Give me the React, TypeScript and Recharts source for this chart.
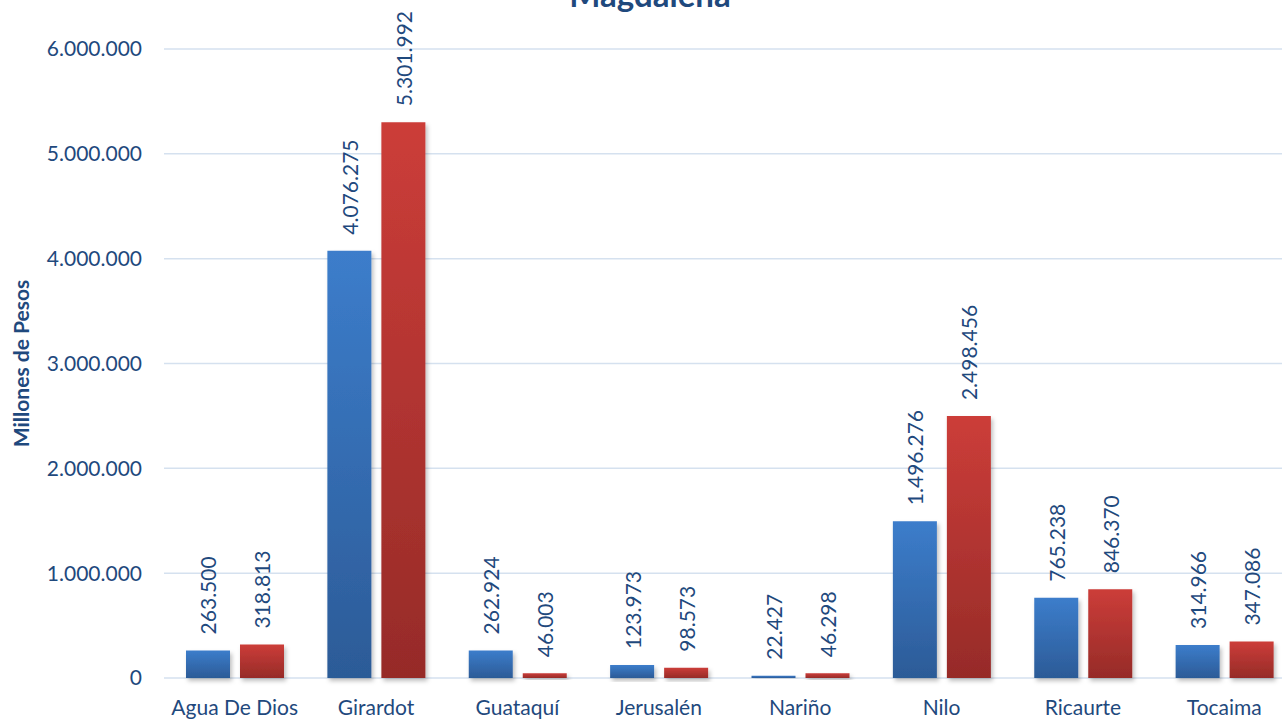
import { BarChart, Bar, XAxis, YAxis, CartesianGrid, Label, LabelList } from 'recharts';

const municipios = ['Agua De Dios', 'Girardot', 'Guataquí', 'Jerusalén', 'Nariño', 'Nilo', 'Ricaurte', 'Tocaima'];
const serieAzul = [263500, 4076275, 262924, 123973, 22427, 1496276, 765238, 314966];
const serieRoja = [318813, 5301992, 46003, 98573, 46298, 2498456, 846370, 347086];
const yTicks = [0, 1000000, 2000000, 3000000, 4000000, 5000000, 6000000];

const data = municipios.map((m, i) => ({ name: m, azul: serieAzul[i], roja: serieRoja[i] }));

const TEXT = '#1F497D';
const FONT = 'Lato, "Open Sans", sans-serif';

function fmt(v: number) {
  return v.toString().replace(/\B(?=(\d{3})+(?!\d))/g, '.');
}

function RotLabel(props: any) {
  const { x, y, width, value } = props;
  const cx = Number(x) + Number(width) / 2;
  const ty = Number(y) - 16;
  return (
    <text
      x={cx}
      y={ty}
      transform={`rotate(-90 ${cx} ${ty})`}
      textAnchor="start"
      dominantBaseline="central"
      fill={TEXT}
      fontSize={21}
      fontFamily={FONT}
    >
      {fmt(value)}
    </text>
  );
}

export default function App() {
  return (
    <div style={{ position: 'fixed', left: 0, top: 0, width: 1282, height: 719, overflow: 'hidden', background: '#fff', fontFamily: FONT }}>
      <BarChart
        width={1300}
        height={719}
        data={data}
        margin={{ top: 49, right: 5, left: 0, bottom: 0 }}
        barSize={44}
        barGap={10}
        style={{ position: 'absolute', left: 0, top: 0 }}
      >
        <defs>
          <linearGradient id="gAzul" x1="0" y1="0" x2="0" y2="1">
            <stop offset="0%" stopColor="#3C7DCB" />
            <stop offset="100%" stopColor="#2C5B97" />
          </linearGradient>
          <linearGradient id="gRoja" x1="0" y1="0" x2="0" y2="1">
            <stop offset="0%" stopColor="#CC3D39" />
            <stop offset="100%" stopColor="#962B28" />
          </linearGradient>
          <filter id="sombra" x="-20%" y="-20%" width="150%" height="150%">
            <feDropShadow dx="2" dy="3" stdDeviation="2" floodColor="#000" floodOpacity="0.25" />
          </filter>
        </defs>
        <CartesianGrid vertical={false} stroke="#D5E1EF" strokeWidth={1.5} />
        <XAxis
          dataKey="name"
          height={41}
          axisLine={false}
          tickLine={false}
          tickMargin={16}
          interval={0}
          tick={{ fill: TEXT, fontSize: 21, fontFamily: FONT }}
        />
        <YAxis
          width={164}
          domain={[0, 6000000]}
          ticks={yTicks}
          axisLine={false}
          tickLine={false}
          tickMargin={16}
          tickFormatter={(v: number) => fmt(v)}
          tick={{ fill: TEXT, fontSize: 21, fontFamily: FONT }}
        >
          <Label
            value="Millones de Pesos"
            angle={-90}
            position="insideLeft"
            offset={22}
            style={{ textAnchor: 'middle', fill: TEXT, fontSize: 21, fontWeight: 700, fontFamily: FONT }}
          />
        </YAxis>
        <Bar dataKey="azul" fill="url(#gAzul)" filter="url(#sombra)" isAnimationActive={false}>
          <LabelList dataKey="azul" content={<RotLabel />} />
        </Bar>
        <Bar dataKey="roja" fill="url(#gRoja)" filter="url(#sombra)" isAnimationActive={false}>
          <LabelList dataKey="roja" content={<RotLabel />} />
        </Bar>
      </BarChart>
      <svg width={1282} height={40} style={{ position: 'absolute', left: 0, top: 0, zIndex: 2, pointerEvents: 'none' }}>
        <text x={650} y={7} textAnchor="middle" fill={TEXT} fontSize={33} fontWeight={700} fontFamily={FONT}>
          Magdalena
        </text>
      </svg>
    </div>
  );
}
